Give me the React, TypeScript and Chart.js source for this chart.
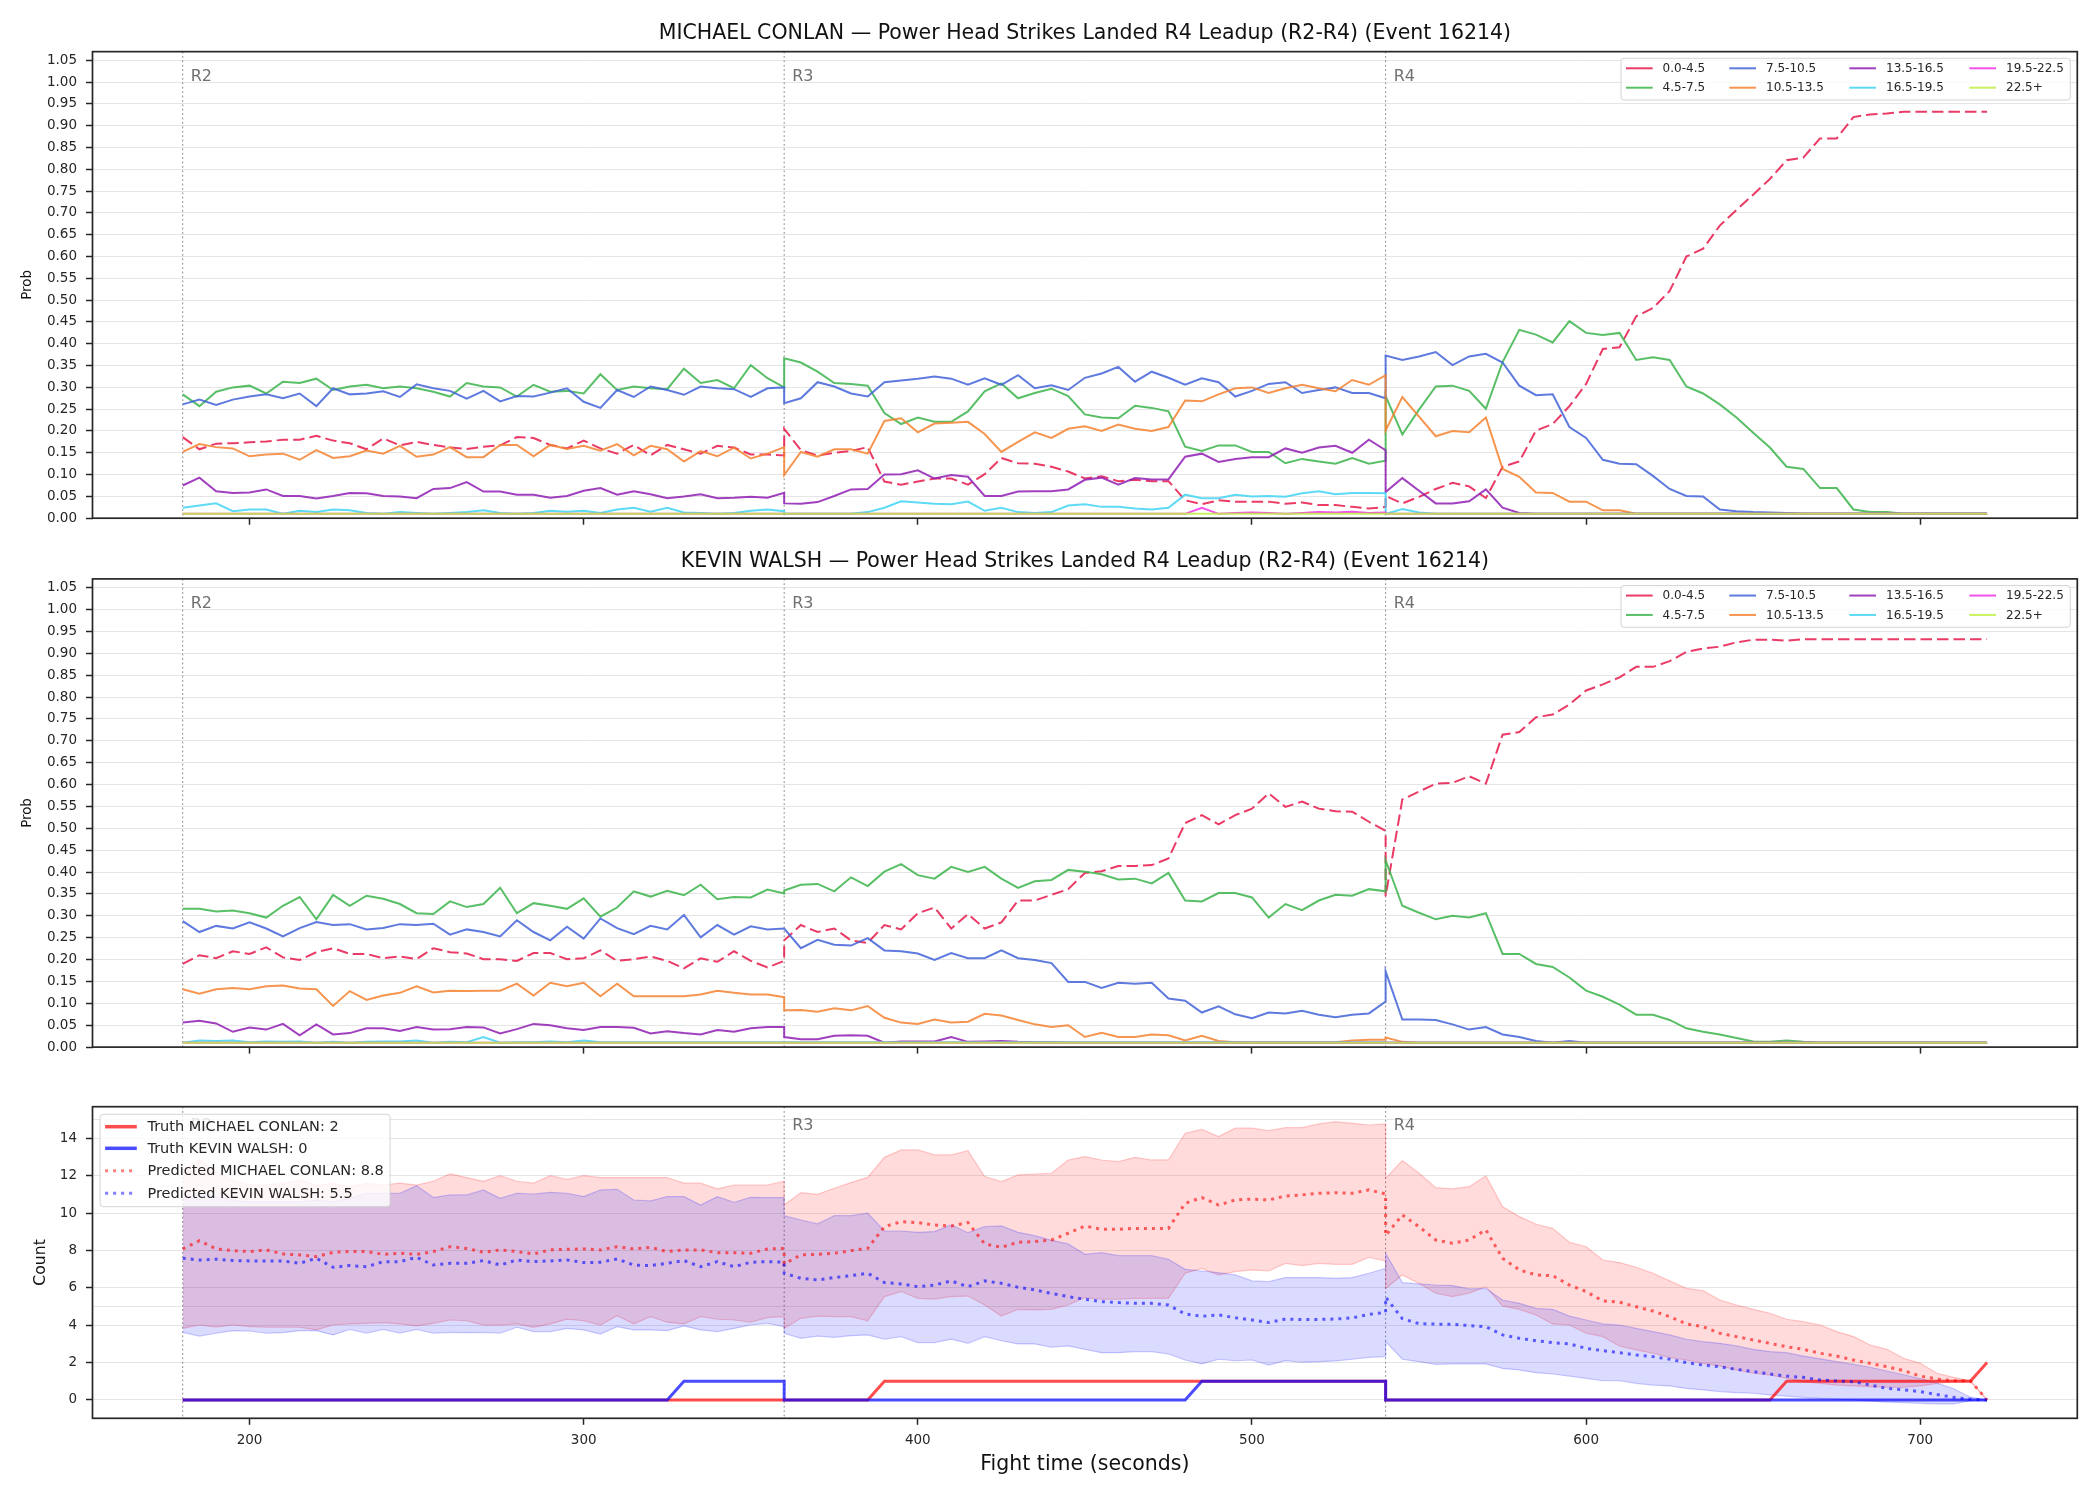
import React, { useEffect, useRef } from 'react';
import { Chart, registerables } from 'chart.js';

Chart.register(...registerables);

const FONT = '"DejaVu Sans", "Liberation Sans", Arial, sans-serif';
const INK = '#262626';
const GRID = 'rgba(0,0,0,0.1)';
Chart.defaults.font.family = FONT;

// ---------------------------------------------------------------------------
// Fight clock: rounds 2-4, sampled every 5 s. Each round is sampled from its
// first to its last second, so the boundary seconds appear twice.
// ---------------------------------------------------------------------------
const ROUND_STARTS = [180, 360, 540];
const ROUND_NAMES = ['R2', 'R3', 'R4'];
const ROUND_SECONDS = 180;
const STEP_SECONDS = 5;
const TIMES: number[] = ROUND_STARTS.flatMap((start) =>
  Array.from({ length: ROUND_SECONDS / STEP_SECONDS + 1 }, (_, k) => start + k * STEP_SECONDS)
);
const R4_FIRST_SAMPLE = 2 * (ROUND_SECONDS / STEP_SECONDS + 1);

const X_MIN = 153;
const X_MAX = 747;
const X_TICKS = [200, 300, 400, 500, 600, 700];
const PROB_TICKS = [0, 0.05, 0.1, 0.15, 0.2, 0.25, 0.3, 0.35, 0.4, 0.45, 0.5, 0.55, 0.6, 0.65, 0.7, 0.75, 0.8, 0.85, 0.9, 0.95, 1.0, 1.05];
const COUNT_TICKS = [0, 2, 4, 6, 8, 10, 12, 14];
const COUNT_EXTRA_GRID = [5, 15];

const FIGHTERS = ['MICHAEL CONLAN', 'KEVIN WALSH'];
const EVENT_ID = 16214;
const BUCKETS = ['0.0-4.5', '4.5-7.5', '7.5-10.5', '10.5-13.5', '13.5-16.5', '16.5-19.5', '19.5-22.5', '22.5+'];
const BUCKET_COLORS = [
  'rgba(230,25,75,0.85)', 'rgba(60,180,75,0.85)', 'rgba(67,99,216,0.85)', 'rgba(245,130,49,0.85)',
  'rgba(145,30,180,0.85)', 'rgba(66,212,244,0.85)', 'rgba(240,50,230,0.85)', 'rgba(191,239,69,0.85)',
];

// ---------------------------------------------------------------------------
// MICHAEL CONLAN — bucket probabilities (R2 | R3 | R4 rows)
// ---------------------------------------------------------------------------
const C_00_45 = [
  0.186, 0.158, 0.171, 0.172, 0.174, 0.176, 0.180, 0.180, 0.189, 0.178, 0.172, 0.158, 0.183, 0.167, 0.175, 0.168, 0.162, 0.159, 0.164, 0.167, 0.186, 0.184, 0.168, 0.160, 0.178, 0.160, 0.148, 0.168, 0.144, 0.168, 0.158, 0.148, 0.166, 0.162, 0.146, 0.146, 0.144,
  0.205, 0.156, 0.144, 0.150, 0.154, 0.163, 0.084, 0.077, 0.084, 0.091, 0.091, 0.077, 0.101, 0.138, 0.126, 0.125, 0.118, 0.107, 0.091, 0.096, 0.085, 0.088, 0.085, 0.085, 0.041, 0.032, 0.041, 0.038, 0.038, 0.038, 0.033, 0.036, 0.030, 0.030, 0.026, 0.022, 0.026,
  0.051, 0.034, 0.049, 0.067, 0.081, 0.073, 0.046, 0.118, 0.130, 0.201, 0.216, 0.257, 0.308, 0.388, 0.392, 0.463, 0.482, 0.521, 0.600, 0.618, 0.671, 0.707, 0.742, 0.778, 0.821, 0.827, 0.871, 0.871, 0.920, 0.926, 0.928, 0.932, 0.932, 0.932, 0.932, 0.932, 0.932,
];
const C_45_75 = [
  0.284, 0.257, 0.290, 0.300, 0.304, 0.286, 0.313, 0.310, 0.320, 0.294, 0.302, 0.306, 0.298, 0.302, 0.298, 0.290, 0.279, 0.310, 0.302, 0.300, 0.279, 0.306, 0.290, 0.292, 0.286, 0.330, 0.294, 0.302, 0.298, 0.296, 0.343, 0.310, 0.317, 0.298, 0.351, 0.321, 0.300,
  0.367, 0.357, 0.336, 0.310, 0.308, 0.304, 0.241, 0.216, 0.231, 0.221, 0.221, 0.245, 0.291, 0.309, 0.275, 0.287, 0.297, 0.280, 0.238, 0.231, 0.229, 0.258, 0.253, 0.245, 0.164, 0.154, 0.167, 0.167, 0.152, 0.152, 0.126, 0.136, 0.130, 0.125, 0.138, 0.125, 0.132,
  0.280, 0.192, 0.249, 0.302, 0.304, 0.292, 0.251, 0.358, 0.432, 0.421, 0.403, 0.452, 0.425, 0.420, 0.425, 0.363, 0.369, 0.363, 0.302, 0.286, 0.261, 0.231, 0.196, 0.162, 0.118, 0.113, 0.069, 0.069, 0.020, 0.014, 0.014, 0.01, 0.01, 0.01, 0.01, 0.01, 0.01,
];
const C_75_105 = [
  0.261, 0.272, 0.260, 0.272, 0.279, 0.284, 0.275, 0.286, 0.257, 0.298, 0.284, 0.286, 0.291, 0.278, 0.307, 0.298, 0.292, 0.274, 0.292, 0.268, 0.280, 0.279, 0.288, 0.298, 0.267, 0.253, 0.294, 0.278, 0.302, 0.294, 0.283, 0.302, 0.298, 0.296, 0.278, 0.298, 0.300,
  0.264, 0.275, 0.312, 0.302, 0.286, 0.279, 0.312, 0.316, 0.320, 0.325, 0.320, 0.306, 0.321, 0.306, 0.328, 0.298, 0.305, 0.294, 0.322, 0.332, 0.347, 0.313, 0.336, 0.322, 0.306, 0.321, 0.312, 0.279, 0.292, 0.308, 0.312, 0.287, 0.294, 0.300, 0.287, 0.287, 0.275,
  0.373, 0.363, 0.371, 0.381, 0.351, 0.371, 0.377, 0.357, 0.304, 0.282, 0.284, 0.209, 0.184, 0.134, 0.125, 0.124, 0.097, 0.067, 0.051, 0.050, 0.020, 0.016, 0.014, 0.013, 0.012, 0.01, 0.01, 0.01, 0.01, 0.01, 0.01, 0.01, 0.01, 0.01, 0.01, 0.01, 0.01,
];
const C_105_135 = [
  0.152, 0.170, 0.163, 0.160, 0.142, 0.146, 0.148, 0.134, 0.156, 0.138, 0.142, 0.155, 0.148, 0.166, 0.141, 0.146, 0.163, 0.140, 0.140, 0.168, 0.168, 0.142, 0.168, 0.159, 0.166, 0.155, 0.170, 0.144, 0.166, 0.158, 0.130, 0.154, 0.142, 0.162, 0.137, 0.148, 0.163,
  0.099, 0.152, 0.141, 0.158, 0.158, 0.148, 0.223, 0.229, 0.197, 0.217, 0.219, 0.221, 0.193, 0.152, 0.175, 0.197, 0.184, 0.205, 0.211, 0.200, 0.215, 0.205, 0.200, 0.209, 0.270, 0.268, 0.284, 0.298, 0.300, 0.287, 0.298, 0.306, 0.298, 0.291, 0.317, 0.306, 0.328,
  0.201, 0.278, 0.233, 0.188, 0.200, 0.197, 0.231, 0.113, 0.095, 0.059, 0.058, 0.038, 0.038, 0.018, 0.018, 0.01, 0.01, 0.01, 0.01, 0.01, 0.01, 0.01, 0.01, 0.01, 0.01, 0.01, 0.01, 0.01, 0.01, 0.01, 0.01, 0.01, 0.01, 0.01, 0.01, 0.01, 0.01,
];
const C_135_165 = [
  0.075, 0.093, 0.062, 0.058, 0.059, 0.066, 0.051, 0.051, 0.045, 0.051, 0.058, 0.057, 0.051, 0.050, 0.046, 0.067, 0.069, 0.083, 0.061, 0.061, 0.054, 0.054, 0.047, 0.051, 0.063, 0.069, 0.054, 0.062, 0.055, 0.046, 0.050, 0.055, 0.046, 0.047, 0.049, 0.047, 0.058,
  0.034, 0.033, 0.037, 0.051, 0.066, 0.067, 0.100, 0.101, 0.110, 0.091, 0.099, 0.095, 0.051, 0.051, 0.061, 0.062, 0.062, 0.066, 0.088, 0.093, 0.077, 0.092, 0.089, 0.089, 0.141, 0.148, 0.129, 0.136, 0.140, 0.140, 0.160, 0.150, 0.162, 0.166, 0.150, 0.180, 0.156,
  0.060, 0.092, 0.063, 0.034, 0.034, 0.039, 0.066, 0.024, 0.012, 0.01, 0.01, 0.01, 0.01, 0.01, 0.01, 0.01, 0.01, 0.01, 0.01, 0.01, 0.01, 0.01, 0.01, 0.01, 0.01, 0.01, 0.01, 0.01, 0.01, 0.01, 0.01, 0.01, 0.01, 0.01, 0.01, 0.01, 0.01,
];
const C_165_195 = [
  0.024, 0.029, 0.034, 0.016, 0.020, 0.020, 0.01, 0.017, 0.014, 0.020, 0.018, 0.012, 0.01, 0.014, 0.012, 0.01, 0.012, 0.014, 0.018, 0.012, 0.01, 0.012, 0.017, 0.015, 0.017, 0.012, 0.020, 0.024, 0.015, 0.024, 0.013, 0.012, 0.01, 0.012, 0.017, 0.020, 0.016,
  0.01, 0.01, 0.01, 0.01, 0.01, 0.014, 0.024, 0.039, 0.036, 0.033, 0.032, 0.038, 0.017, 0.024, 0.014, 0.012, 0.014, 0.029, 0.032, 0.026, 0.026, 0.022, 0.020, 0.024, 0.054, 0.046, 0.046, 0.054, 0.050, 0.051, 0.049, 0.057, 0.062, 0.055, 0.058, 0.058, 0.057,
  0.01, 0.021, 0.013, 0.01, 0.01, 0.01, 0.01, 0.01, 0.01, 0.01, 0.01, 0.01, 0.01, 0.01, 0.01, 0.01, 0.01, 0.01, 0.01, 0.01, 0.01, 0.01, 0.01, 0.01, 0.01, 0.01, 0.01, 0.01, 0.01, 0.01, 0.01, 0.01, 0.01, 0.01, 0.01, 0.01, 0.01,
];
const C_195_225 = [
  0.01, 0.01, 0.01, 0.01, 0.01, 0.01, 0.01, 0.01, 0.01, 0.01, 0.01, 0.01, 0.01, 0.01, 0.01, 0.01, 0.01, 0.01, 0.01, 0.01, 0.01, 0.01, 0.01, 0.01, 0.01, 0.01, 0.01, 0.01, 0.01, 0.01, 0.01, 0.01, 0.01, 0.01, 0.01, 0.01, 0.01,
  0.01, 0.01, 0.01, 0.01, 0.01, 0.01, 0.01, 0.01, 0.01, 0.01, 0.01, 0.01, 0.01, 0.01, 0.01, 0.01, 0.01, 0.01, 0.01, 0.01, 0.01, 0.01, 0.01, 0.01, 0.01, 0.024, 0.01, 0.012, 0.013, 0.012, 0.01, 0.012, 0.014, 0.013, 0.015, 0.012, 0.013,
  0.01, 0.01, 0.01, 0.01, 0.01, 0.01, 0.01, 0.01, 0.01, 0.01, 0.01, 0.01, 0.01, 0.01, 0.01, 0.01, 0.01, 0.01, 0.01, 0.01, 0.01, 0.01, 0.01, 0.01, 0.01, 0.01, 0.01, 0.01, 0.01, 0.01, 0.01, 0.01, 0.01, 0.01, 0.01, 0.01, 0.01,
];
const C_225_UP = [
  0.01, 0.01, 0.01, 0.01, 0.01, 0.01, 0.01, 0.01, 0.01, 0.01, 0.01, 0.01, 0.01, 0.01, 0.01, 0.01, 0.01, 0.01, 0.01, 0.01, 0.01, 0.01, 0.01, 0.01, 0.01, 0.01, 0.01, 0.01, 0.01, 0.01, 0.01, 0.01, 0.01, 0.01, 0.01, 0.01, 0.01,
  0.01, 0.01, 0.01, 0.01, 0.01, 0.01, 0.01, 0.01, 0.01, 0.01, 0.01, 0.01, 0.01, 0.01, 0.01, 0.01, 0.01, 0.01, 0.01, 0.01, 0.01, 0.01, 0.01, 0.01, 0.01, 0.01, 0.01, 0.01, 0.01, 0.01, 0.01, 0.01, 0.01, 0.01, 0.01, 0.01, 0.01,
  0.01, 0.01, 0.01, 0.01, 0.01, 0.01, 0.01, 0.01, 0.01, 0.01, 0.01, 0.01, 0.01, 0.01, 0.01, 0.01, 0.01, 0.01, 0.01, 0.01, 0.01, 0.01, 0.01, 0.01, 0.01, 0.01, 0.01, 0.01, 0.01, 0.01, 0.01, 0.01, 0.01, 0.01, 0.01, 0.01, 0.01,
];

// ---------------------------------------------------------------------------
// KEVIN WALSH — bucket probabilities (R2 | R3 | R4 rows)
// ---------------------------------------------------------------------------
const W_00_45 = [
  0.190, 0.210, 0.203, 0.219, 0.213, 0.228, 0.205, 0.199, 0.217, 0.226, 0.213, 0.213, 0.203, 0.207, 0.201, 0.226, 0.217, 0.214, 0.201, 0.201, 0.197, 0.215, 0.215, 0.201, 0.203, 0.221, 0.197, 0.201, 0.207, 0.197, 0.180, 0.203, 0.195, 0.219, 0.197, 0.182, 0.197,
  0.244, 0.279, 0.263, 0.271, 0.244, 0.238, 0.279, 0.269, 0.306, 0.319, 0.271, 0.304, 0.271, 0.285, 0.335, 0.335, 0.348, 0.361, 0.398, 0.402, 0.414, 0.414, 0.416, 0.431, 0.512, 0.530, 0.509, 0.530, 0.545, 0.580, 0.549, 0.561, 0.545, 0.539, 0.538, 0.515, 0.494,
  0.345, 0.566, 0.584, 0.602, 0.604, 0.619, 0.602, 0.714, 0.720, 0.754, 0.760, 0.783, 0.815, 0.829, 0.845, 0.869, 0.869, 0.882, 0.903, 0.911, 0.915, 0.925, 0.931, 0.931, 0.929, 0.932, 0.932, 0.932, 0.932, 0.932, 0.932, 0.932, 0.932, 0.932, 0.932, 0.932, 0.932,
];
const W_45_75 = [
  0.316, 0.316, 0.310, 0.312, 0.306, 0.296, 0.323, 0.343, 0.292, 0.348, 0.323, 0.346, 0.339, 0.327, 0.306, 0.304, 0.333, 0.320, 0.327, 0.364, 0.306, 0.329, 0.323, 0.316, 0.340, 0.298, 0.319, 0.356, 0.344, 0.357, 0.347, 0.371, 0.338, 0.343, 0.342, 0.360, 0.351,
  0.358, 0.371, 0.373, 0.356, 0.388, 0.368, 0.401, 0.418, 0.393, 0.385, 0.412, 0.400, 0.412, 0.385, 0.364, 0.379, 0.382, 0.405, 0.401, 0.395, 0.383, 0.385, 0.374, 0.398, 0.335, 0.333, 0.352, 0.352, 0.342, 0.296, 0.327, 0.313, 0.335, 0.348, 0.346, 0.361, 0.356,
  0.427, 0.323, 0.307, 0.292, 0.300, 0.296, 0.306, 0.213, 0.213, 0.190, 0.183, 0.159, 0.129, 0.115, 0.097, 0.074, 0.074, 0.062, 0.043, 0.035, 0.029, 0.021, 0.013, 0.012, 0.015, 0.012, 0.01, 0.01, 0.01, 0.01, 0.01, 0.01, 0.01, 0.01, 0.01, 0.01, 0.01,
];
const W_75_105 = [
  0.288, 0.263, 0.277, 0.271, 0.285, 0.271, 0.253, 0.272, 0.286, 0.279, 0.281, 0.269, 0.272, 0.281, 0.279, 0.282, 0.257, 0.269, 0.263, 0.253, 0.290, 0.263, 0.244, 0.275, 0.248, 0.294, 0.272, 0.258, 0.277, 0.269, 0.302, 0.251, 0.279, 0.257, 0.276, 0.269, 0.271,
  0.271, 0.226, 0.245, 0.234, 0.232, 0.249, 0.221, 0.219, 0.214, 0.199, 0.215, 0.203, 0.203, 0.221, 0.203, 0.199, 0.192, 0.149, 0.149, 0.135, 0.147, 0.145, 0.147, 0.111, 0.106, 0.079, 0.093, 0.075, 0.066, 0.079, 0.077, 0.083, 0.074, 0.068, 0.074, 0.077, 0.104,
  0.173, 0.063, 0.063, 0.062, 0.052, 0.040, 0.046, 0.029, 0.023, 0.014, 0.01, 0.014, 0.01, 0.01, 0.01, 0.01, 0.01, 0.01, 0.01, 0.01, 0.01, 0.01, 0.01, 0.01, 0.01, 0.01, 0.01, 0.01, 0.01, 0.01, 0.01, 0.01, 0.01, 0.01, 0.01, 0.01, 0.01,
];
const W_105_135 = [
  0.132, 0.122, 0.132, 0.135, 0.132, 0.139, 0.141, 0.134, 0.132, 0.094, 0.128, 0.108, 0.118, 0.124, 0.139, 0.125, 0.129, 0.128, 0.129, 0.129, 0.145, 0.118, 0.147, 0.139, 0.147, 0.116, 0.145, 0.116, 0.116, 0.116, 0.116, 0.120, 0.129, 0.124, 0.120, 0.120, 0.114,
  0.084, 0.085, 0.081, 0.089, 0.084, 0.094, 0.067, 0.056, 0.053, 0.063, 0.056, 0.058, 0.076, 0.072, 0.062, 0.052, 0.046, 0.050, 0.023, 0.033, 0.023, 0.023, 0.029, 0.027, 0.015, 0.026, 0.014, 0.011, 0.011, 0.011, 0.011, 0.011, 0.011, 0.011, 0.015, 0.017, 0.017,
  0.022, 0.012, 0.01, 0.01, 0.01, 0.01, 0.01, 0.01, 0.01, 0.01, 0.01, 0.01, 0.01, 0.01, 0.01, 0.01, 0.01, 0.01, 0.01, 0.01, 0.01, 0.01, 0.01, 0.01, 0.01, 0.01, 0.01, 0.01, 0.01, 0.01, 0.01, 0.01, 0.01, 0.01, 0.01, 0.01, 0.01,
];
const W_135_165 = [
  0.056, 0.060, 0.054, 0.035, 0.045, 0.040, 0.053, 0.027, 0.052, 0.029, 0.032, 0.043, 0.043, 0.037, 0.046, 0.040, 0.041, 0.046, 0.045, 0.031, 0.041, 0.053, 0.050, 0.043, 0.039, 0.046, 0.046, 0.044, 0.031, 0.036, 0.032, 0.029, 0.039, 0.035, 0.043, 0.046, 0.046,
  0.023, 0.018, 0.018, 0.026, 0.027, 0.026, 0.010, 0.013, 0.013, 0.013, 0.023, 0.012, 0.013, 0.014, 0.012, 0.011, 0.011, 0.01, 0.01, 0.01, 0.01, 0.01, 0.01, 0.01, 0.01, 0.01, 0.01, 0.01, 0.01, 0.01, 0.01, 0.01, 0.01, 0.01, 0.01, 0.01, 0.01,
  0.01, 0.01, 0.01, 0.01, 0.01, 0.01, 0.01, 0.01, 0.01, 0.01, 0.01, 0.01, 0.01, 0.01, 0.01, 0.01, 0.01, 0.01, 0.01, 0.01, 0.01, 0.01, 0.01, 0.01, 0.01, 0.01, 0.01, 0.01, 0.01, 0.01, 0.01, 0.01, 0.01, 0.01, 0.01, 0.01, 0.01,
];
const W_165_195 = [
  0.010, 0.015, 0.014, 0.015, 0.011, 0.013, 0.012, 0.013, 0.010, 0.012, 0.010, 0.012, 0.013, 0.013, 0.015, 0.010, 0.012, 0.011, 0.023, 0.010, 0.011, 0.011, 0.013, 0.011, 0.015, 0.011, 0.011, 0.011, 0.011, 0.011, 0.011, 0.011, 0.011, 0.011, 0.011, 0.011, 0.011,
  0.011, 0.011, 0.011, 0.011, 0.011, 0.011, 0.011, 0.011, 0.011, 0.011, 0.011, 0.011, 0.011, 0.011, 0.011, 0.011, 0.011, 0.011, 0.011, 0.011, 0.011, 0.011, 0.011, 0.011, 0.011, 0.011, 0.011, 0.011, 0.011, 0.011, 0.011, 0.011, 0.011, 0.011, 0.011, 0.011, 0.011,
  0.01, 0.01, 0.01, 0.01, 0.01, 0.01, 0.01, 0.01, 0.01, 0.01, 0.01, 0.01, 0.01, 0.01, 0.01, 0.01, 0.01, 0.01, 0.01, 0.01, 0.01, 0.01, 0.01, 0.01, 0.01, 0.01, 0.01, 0.01, 0.01, 0.01, 0.01, 0.01, 0.01, 0.01, 0.01, 0.01, 0.01,
];
const W_195_225 = C_225_UP.slice();
const W_225_UP = C_225_UP.slice();

// ---------------------------------------------------------------------------
// Head strike counts: truth, predicted mean and interval bands
// ---------------------------------------------------------------------------
const TRUTH_CONLAN = [
  0, 0, 0, 0, 0, 0, 0, 0, 0, 0, 0, 0, 0, 0, 0, 0, 0, 0, 0, 0, 0, 0, 0, 0, 0, 0, 0, 0, 0, 0, 0, 0, 0, 0, 0, 0, 0,
  0, 0, 0, 0, 0, 0, 1, 1, 1, 1, 1, 1, 1, 1, 1, 1, 1, 1, 1, 1, 1, 1, 1, 1, 1, 1, 1, 1, 1, 1, 1, 1, 1, 1, 1, 1, 1,
  0, 0, 0, 0, 0, 0, 0, 0, 0, 0, 0, 0, 0, 0, 0, 0, 0, 0, 0, 0, 0, 0, 0, 0, 1, 1, 1, 1, 1, 1, 1, 1, 1, 1, 1, 1, 2,
];
const TRUTH_WALSH = [
  0, 0, 0, 0, 0, 0, 0, 0, 0, 0, 0, 0, 0, 0, 0, 0, 0, 0, 0, 0, 0, 0, 0, 0, 0, 0, 0, 0, 0, 0, 1, 1, 1, 1, 1, 1, 1,
  0, 0, 0, 0, 0, 0, 0, 0, 0, 0, 0, 0, 0, 0, 0, 0, 0, 0, 0, 0, 0, 0, 0, 0, 0, 1, 1, 1, 1, 1, 1, 1, 1, 1, 1, 1, 1,
  0, 0, 0, 0, 0, 0, 0, 0, 0, 0, 0, 0, 0, 0, 0, 0, 0, 0, 0, 0, 0, 0, 0, 0, 0, 0, 0, 0, 0, 0, 0, 0, 0, 0, 0, 0, 0,
];
const PRED_CONLAN = [
  8.08, 8.52, 8.08, 7.99, 7.94, 8.03, 7.81, 7.76, 7.67, 7.90, 7.94, 7.94, 7.79, 7.85, 7.79, 7.94, 8.20, 8.11, 7.90, 8.03, 7.94, 7.81, 8.03, 8.06, 8.08, 8.03, 8.20, 8.08, 8.17, 7.94, 8.03, 8.03, 7.88, 7.88, 7.85, 8.08, 8.11,
  7.28, 7.76, 7.79, 7.85, 7.99, 8.11, 9.27, 9.54, 9.49, 9.36, 9.31, 9.49, 8.35, 8.17, 8.44, 8.47, 8.56, 8.92, 9.31, 9.13, 9.13, 9.18, 9.18, 9.18, 10.52, 10.83, 10.43, 10.70, 10.75, 10.70, 10.91, 10.97, 11.06, 11.09, 11.06, 11.24, 11.02,
  8.8, 9.90, 9.27, 8.56, 8.38, 8.56, 9.10, 7.58, 6.96, 6.69, 6.65, 6.15, 5.80, 5.30, 5.23, 4.99, 4.76, 4.46, 4.07, 3.92, 3.57, 3.39, 3.21, 3.03, 2.85, 2.71, 2.50, 2.35, 2.14, 1.96, 1.78, 1.57, 1.28, 1.12, 1.03, 1.03, 0,
];
const PRED_WALSH = [
  7.58, 7.49, 7.53, 7.46, 7.44, 7.44, 7.44, 7.31, 7.58, 7.10, 7.19, 7.13, 7.40, 7.40, 7.63, 7.22, 7.31, 7.31, 7.46, 7.22, 7.49, 7.40, 7.44, 7.49, 7.35, 7.37, 7.54, 7.22, 7.19, 7.31, 7.46, 7.13, 7.40, 7.13, 7.37, 7.40, 7.37,
  6.78, 6.51, 6.42, 6.55, 6.65, 6.78, 6.28, 6.21, 6.06, 6.15, 6.37, 6.06, 6.37, 6.24, 6.03, 5.89, 5.70, 5.53, 5.39, 5.26, 5.21, 5.17, 5.17, 5.08, 4.60, 4.48, 4.55, 4.40, 4.28, 4.14, 4.33, 4.30, 4.31, 4.33, 4.39, 4.58, 4.69,
  5.5, 4.35, 4.08, 4.06, 4.05, 3.98, 3.92, 3.48, 3.30, 3.17, 3.07, 3.00, 2.76, 2.64, 2.53, 2.41, 2.32, 2.18, 2.00, 1.87, 1.78, 1.64, 1.52, 1.39, 1.28, 1.21, 1.07, 1.02, 0.98, 0.80, 0.62, 0.54, 0.45, 0.29, 0.14, 0.04, 0,
];
const CONLAN_HIGH = [
  12.3, 12.85, 12.22, 11.77, 11.50, 11.50, 11.59, 11.77, 11.50, 11.59, 11.41, 11.59, 11.5, 11.6, 11.5, 11.7, 12.1, 11.9, 11.7, 12.0, 11.7, 11.6, 12.0, 11.8, 12.0, 11.9, 11.9, 11.9, 11.9, 11.9, 11.6, 11.6, 11.3, 11.5, 11.5, 11.5, 11.7,
  10.43, 11.09, 11.00, 11.33, 11.63, 11.91, 12.98, 13.38, 13.38, 13.11, 13.11, 13.34, 11.95, 11.68, 12.04, 12.09, 12.13, 12.84, 13.02, 12.84, 12.75, 12.98, 12.84, 12.84, 14.27, 14.48, 14.09, 14.54, 14.54, 14.41, 14.57, 14.57, 14.77, 14.89, 14.80, 14.71, 14.77,
  11.86, 12.81, 12.13, 11.36, 11.29, 11.41, 11.99, 10.34, 9.81, 9.40, 9.18, 8.44, 8.20, 7.49, 7.35, 7.10, 6.78, 6.37, 5.97, 5.85, 5.35, 5.08, 4.85, 4.64, 4.32, 4.19, 4.01, 3.66, 3.39, 2.94, 2.71, 2.23, 1.96, 1.43, 1.21, 1.03, 0,
];
const CONLAN_LOW = [
  3.83, 4.01, 3.89, 4.01, 3.92, 3.89, 3.89, 3.89, 3.75, 4.01, 4.07, 4.10, 4.14, 4.07, 3.96, 4.10, 4.28, 4.24, 4.01, 4.01, 4.07, 3.89, 4.07, 4.32, 4.24, 4.01, 4.51, 4.07, 4.46, 4.16, 4.07, 4.46, 4.32, 4.28, 4.16, 4.41, 4.46,
  3.83, 4.37, 4.49, 4.46, 4.46, 4.24, 5.53, 5.80, 5.44, 5.40, 5.53, 5.56, 5.08, 4.49, 4.85, 4.82, 4.85, 5.08, 5.48, 5.39, 5.39, 5.44, 5.44, 5.44, 6.78, 7.04, 6.69, 6.87, 6.96, 6.90, 7.31, 7.19, 7.31, 7.26, 7.26, 7.63, 7.44,
  5.97, 6.69, 6.24, 5.71, 5.53, 5.71, 6.06, 5.03, 4.85, 4.55, 4.07, 4.01, 3.57, 3.39, 2.89, 2.68, 2.50, 2.28, 2.14, 1.96, 1.82, 1.61, 1.43, 1.34, 1.16, 0.98, 0.89, 0.80, 0.75, 0.71, 0.68, 0.68, 0.75, 0.89, 0.98, 1.00, 0,
];
const WALSH_HIGH = [
  10.8, 11.0, 10.9, 10.7, 10.6, 10.6, 10.6, 10.6, 10.7, 10.6, 10.8, 11.06, 11.06, 11.06, 11.47, 10.83, 10.97, 10.97, 11.24, 10.79, 11.06, 11.02, 11.11, 11.06, 10.88, 11.24, 11.27, 10.70, 10.65, 10.88, 10.88, 10.43, 10.88, 10.58, 10.84, 10.83, 10.83,
  9.86, 9.63, 9.42, 9.86, 9.86, 9.99, 9.04, 9.04, 8.97, 9.01, 9.36, 8.95, 9.27, 9.31, 8.97, 8.79, 8.54, 8.35, 7.79, 7.88, 7.72, 7.72, 7.72, 7.53, 6.99, 6.90, 6.81, 6.69, 6.37, 6.33, 6.55, 6.55, 6.55, 6.51, 6.55, 6.78, 7.04,
  7.85, 6.28, 6.21, 6.15, 6.12, 5.94, 5.97, 5.35, 5.17, 4.90, 4.85, 4.49, 4.28, 4.07, 4.01, 3.83, 3.66, 3.48, 3.25, 3.12, 3.03, 2.89, 2.71, 2.59, 2.53, 2.35, 2.20, 2.05, 1.90, 1.75, 1.55, 1.35, 1.15, 0.90, 0.60, 0.15, 0,
];
const WALSH_LOW = [
  3.62, 3.42, 3.57, 3.71, 3.69, 3.57, 3.60, 3.71, 3.71, 3.48, 3.78, 3.57, 3.78, 3.57, 3.78, 3.57, 3.62, 3.60, 3.62, 3.57, 3.89, 3.66, 3.66, 3.83, 3.75, 3.53, 3.92, 3.75, 3.75, 3.71, 3.96, 3.75, 3.66, 3.83, 4.01, 4.10, 3.92,
  3.57, 3.30, 3.42, 3.35, 3.44, 3.48, 3.25, 3.39, 3.07, 3.07, 3.25, 3.03, 3.39, 3.17, 3.00, 3.00, 2.82, 2.89, 2.71, 2.53, 2.53, 2.59, 2.59, 2.46, 2.14, 1.93, 2.18, 2.10, 2.14, 1.87, 2.10, 2.02, 2.05, 2.09, 2.18, 2.28, 2.32,
  3.12, 2.18, 2.05, 1.91, 1.93, 1.93, 1.93, 1.69, 1.61, 1.46, 1.39, 1.28, 1.16, 1.03, 1.03, 0.89, 0.80, 0.75, 0.62, 0.54, 0.45, 0.39, 0.36, 0.27, 0.21, 0.14, 0.09, 0.04, 0.00, -0.05, -0.11, -0.14, -0.18, -0.21, -0.21, -0.04, 0,
];

// ---------------------------------------------------------------------------
// Layout (pixels)
// ---------------------------------------------------------------------------
const PAGE_W = 2100;
const PLOT_LEFT = 92.5;
const RIGHT_PAD = 22.7;

type LegendItem = { label: string; color: string; dash: number[]; width: number };
type LegendSpec = {
  corner: 'tr' | 'tl';
  inset: number;
  insetTop: number;
  width: number;
  height: number;
  rows: number;
  lineX: number[];
  textX: number[];
  rowY: number[];
  lineLen: number;
  fontSize: number;
  items: LegendItem[];
};
type Deco = {
  title?: string;
  titleBaseline?: number;
  yLabel: string;
  yLabelX: number;
  yLabelSize: number;
  xLabel?: string;
  xLabelY?: number;
  roundLabelBaseline: number;
  legend: LegendSpec;
};

const toPoints = (values: number[]) => TIMES.map((x, i) => ({ x, y: values[i] }));

// keep the scales from reserving extra room around the fixed plot frame
const clearScalePadding = (s: any) => {
  s.paddingTop = 0;
  s.paddingBottom = 0;
  s.paddingLeft = 0;
  s.paddingRight = 0;
};

function drawLegend(ctx: CanvasRenderingContext2D, a: any, L: LegendSpec) {
  const left = L.corner === 'tr' ? a.right - L.inset - L.width : a.left + L.inset;
  const top = a.top + L.insetTop;
  ctx.save();
  ctx.beginPath();
  (ctx as any).roundRect(left, top, L.width, L.height, 3);
  ctx.fillStyle = 'rgba(255,255,255,0.8)';
  ctx.fill();
  ctx.strokeStyle = 'rgba(204,204,204,0.85)';
  ctx.lineWidth = 1;
  ctx.stroke();
  ctx.font = `${L.fontSize}px ${FONT}`;
  ctx.textAlign = 'left';
  ctx.textBaseline = 'middle';
  L.items.forEach((it, k) => {
    const col = Math.floor(k / L.rows);
    const row = k % L.rows;
    const y = top + L.rowY[row];
    const x0 = left + L.lineX[col];
    ctx.beginPath();
    ctx.setLineDash(it.dash);
    ctx.strokeStyle = it.color;
    ctx.lineWidth = it.width;
    ctx.moveTo(x0, y);
    ctx.lineTo(x0 + L.lineLen, y);
    ctx.stroke();
    ctx.setLineDash([]);
    ctx.fillStyle = INK;
    ctx.fillText(it.label, left + L.textX[col], y + 0.5);
  });
  ctx.restore();
}

function decoPlugin(d: Deco) {
  return {
    id: 'panelDeco',
    beforeDatasetsDraw(chart: any) {
      const { ctx, chartArea: a, scales } = chart;
      ctx.save();
      ctx.strokeStyle = 'rgba(110,110,110,0.85)';
      ctx.lineWidth = 1;
      ctx.setLineDash([1.7, 2.7]);
      ROUND_STARTS.forEach((t) => {
        const px = scales.x.getPixelForValue(t);
        ctx.beginPath();
        ctx.moveTo(px, a.top);
        ctx.lineTo(px, a.bottom);
        ctx.stroke();
      });
      ctx.setLineDash([]);
      ctx.fillStyle = '#707070';
      ctx.font = `16px ${FONT}`;
      ctx.textAlign = 'left';
      ctx.textBaseline = 'alphabetic';
      ROUND_STARTS.forEach((t, i) => {
        ctx.fillText(ROUND_NAMES[i], scales.x.getPixelForValue(t) + 8, a.top + d.roundLabelBaseline);
      });
      ctx.restore();
    },
    afterDraw(chart: any) {
      const { ctx, chartArea: a } = chart;
      ctx.save();
      // frame
      ctx.strokeStyle = INK;
      ctx.lineWidth = 1.7;
      ctx.strokeRect(a.left, a.top, a.right - a.left, a.bottom - a.top);
      const cx = (a.left + a.right) / 2;
      ctx.fillStyle = '#111';
      if (d.title) {
        ctx.font = `20.5px ${FONT}`;
        ctx.textAlign = 'center';
        ctx.textBaseline = 'alphabetic';
        ctx.fillText(d.title, cx, d.titleBaseline as number);
      }
      if (d.xLabel) {
        ctx.font = `20.5px ${FONT}`;
        ctx.textAlign = 'center';
        ctx.textBaseline = 'middle';
        ctx.fillText(d.xLabel, cx, d.xLabelY as number);
      }
      ctx.save();
      ctx.translate(d.yLabelX, (a.top + a.bottom) / 2);
      ctx.rotate(-Math.PI / 2);
      ctx.font = `${d.yLabelSize}px ${FONT}`;
      ctx.textAlign = 'center';
      ctx.textBaseline = 'middle';
      ctx.fillText(d.yLabel, 0, 0);
      ctx.restore();
      ctx.restore();
      drawLegend(ctx, a, d.legend);
    },
  };
}

const xScale = (axisHeight: number, showLabels: boolean) => ({
  type: 'linear',
  min: X_MIN,
  max: X_MAX,
  afterBuildTicks: (s: any) => {
    s.ticks = X_TICKS.map((value) => ({ value }));
  },
  afterFit: (s: any) => {
    s.height = axisHeight;
    clearScalePadding(s);
  },
  border: { display: false },
  grid: { display: true, drawOnChartArea: false, drawTicks: true, tickLength: 6.5, tickColor: INK, tickWidth: 1.5 },
  ticks: {
    autoSkip: false,
    maxRotation: 0,
    padding: 8,
    color: INK,
    font: { size: 13.5, family: FONT },
    callback: (v: any) => (showLabels ? String(v) : ''),
  },
});

const PROB_LEGEND = {
  corner: 'tr' as const,
  inset: 7,
  insetTop: 6.65,
  width: 449.3,
  height: 41.7,
  rows: 2,
  lineX: [5, 108.3, 228.3, 348.3],
  textX: [41.6, 145, 265, 385],
  rowY: [10, 29.4],
  lineLen: 26.7,
  fontSize: 12,
  items: BUCKETS.map((label, i) => ({ label, color: BUCKET_COLORS[i], dash: [] as number[], width: 2 })),
};

function makeProbChart(canvas: HTMLCanvasElement, rows: number[][], name: string, plotTop: number, axisHeight: number, titleBaseline: number) {
  const datasets = rows.map((vals, i) => ({
    label: BUCKETS[i],
    data: toPoints(vals),
    borderColor: BUCKET_COLORS[i],
    backgroundColor: BUCKET_COLORS[i],
    borderWidth: 2,
    borderDash: i === 0 ? [11.5, 5] : [],
    pointRadius: 0,
    fill: false,
    tension: 0,
    order: rows.length - i,
  }));
  const deco: Deco = {
    title: `${name} — Power Head Strikes Landed R4 Leadup (R2-R4) (Event ${EVENT_ID})`,
    titleBaseline,
    yLabel: 'Prob',
    yLabelX: 28,
    yLabelSize: 13.4,
    roundLabelBaseline: 29,
    legend: PROB_LEGEND,
  };
  return new Chart(canvas, {
    type: 'line',
    data: { datasets } as any,
    options: {
      responsive: false,
      animation: false,
      devicePixelRatio: 1,
      events: [],
      layout: { padding: { top: plotTop, right: RIGHT_PAD, left: 0, bottom: 0 } },
      plugins: { legend: { display: false }, tooltip: { enabled: false }, title: { display: false } },
      scales: {
        x: xScale(axisHeight, false) as any,
        y: {
          type: 'linear',
          min: 0,
          max: 1.07,
          afterBuildTicks: (s: any) => {
            s.ticks = PROB_TICKS.map((value) => ({ value }));
          },
          afterFit: (s: any) => {
            s.width = PLOT_LEFT;
            clearScalePadding(s);
          },
          border: { display: false },
          grid: { color: GRID, lineWidth: 1, drawTicks: true, tickLength: 6.5, tickColor: INK, tickWidth: 1.5 },
          ticks: { autoSkip: false, padding: 9, color: INK, font: { size: 13.5, family: FONT }, callback: (v: any) => Number(v).toFixed(2) },
        } as any,
      },
    } as any,
    plugins: [decoPlugin(deco) as any],
  });
}

function makeCountChart(canvas: HTMLCanvasElement, plotTop: number, axisHeight: number) {
  const band = (rgb: string) => ({
    borderColor: `rgba(${rgb},0.2)`,
    backgroundColor: `rgba(${rgb},0.14)`,
    borderWidth: 1.2,
    pointRadius: 0,
    tension: 0,
  });
  const line = (color: string, dash: number[]) => ({
    borderColor: color,
    backgroundColor: color,
    borderWidth: 3,
    borderDash: dash,
    borderCapStyle: 'butt',
    pointRadius: 0,
    fill: false,
    tension: 0,
  });
  const truthRed = 'rgba(255,0,0,0.7)';
  const truthBlue = 'rgba(0,0,255,0.7)';
  const predRed = 'rgba(255,0,0,0.6)';
  const predBlue = 'rgba(0,0,255,0.6)';
  const datasets = [
    { label: 'conlan-low', data: toPoints(CONLAN_LOW), ...band('255,0,0'), fill: false, order: 10 },
    { label: 'conlan-high', data: toPoints(CONLAN_HIGH), ...band('255,0,0'), fill: '-1', order: 9 },
    { label: 'walsh-low', data: toPoints(WALSH_LOW), ...band('0,0,255'), fill: false, order: 8 },
    { label: 'walsh-high', data: toPoints(WALSH_HIGH), ...band('0,0,255'), fill: '-1', order: 7 },
    { label: 'truth-conlan', data: toPoints(TRUTH_CONLAN), ...line(truthRed, []), order: 6 },
    { label: 'truth-walsh', data: toPoints(TRUTH_WALSH), ...line(truthBlue, []), order: 5 },
    { label: 'pred-conlan', data: toPoints(PRED_CONLAN), ...line(predRed, [3, 5]), order: 4 },
    { label: 'pred-walsh', data: toPoints(PRED_WALSH), ...line(predBlue, [3, 5]), order: 3 },
  ];
  const legend: LegendSpec = {
    corner: 'tl',
    inset: 7.6,
    insetTop: 7.6,
    width: 290,
    height: 92.4,
    rows: 4,
    lineX: [5],
    textX: [47.3],
    rowY: [12.4, 34, 56.4, 79],
    lineLen: 31.7,
    fontSize: 14.5,
    items: [
      { label: `Truth ${FIGHTERS[0]}: ${TRUTH_CONLAN[TRUTH_CONLAN.length - 1]}`, color: truthRed, dash: [], width: 3.5 },
      { label: `Truth ${FIGHTERS[1]}: ${TRUTH_WALSH[TRUTH_WALSH.length - 1]}`, color: truthBlue, dash: [], width: 3.5 },
      { label: `Predicted ${FIGHTERS[0]}: ${PRED_CONLAN[R4_FIRST_SAMPLE].toFixed(1)}`, color: 'rgba(255,0,0,0.5)', dash: [3, 5], width: 3 },
      { label: `Predicted ${FIGHTERS[1]}: ${PRED_WALSH[R4_FIRST_SAMPLE].toFixed(1)}`, color: 'rgba(0,0,255,0.5)', dash: [3, 5], width: 3 },
    ],
  };
  const deco: Deco = {
    yLabel: 'Count',
    yLabelX: 41,
    yLabelSize: 15.7,
    xLabel: 'Fight time (seconds)',
    xLabelY: 405,
    roundLabelBaseline: 23.3,
    legend,
  };
  const gridTicks = [...COUNT_TICKS, ...COUNT_EXTRA_GRID].sort((p, q) => p - q);
  return new Chart(canvas, {
    type: 'line',
    data: { datasets } as any,
    options: {
      responsive: false,
      animation: false,
      devicePixelRatio: 1,
      events: [],
      layout: { padding: { top: plotTop, right: RIGHT_PAD, left: 0, bottom: 0 } },
      plugins: { legend: { display: false }, tooltip: { enabled: false }, title: { display: false } },
      scales: {
        x: xScale(axisHeight, true) as any,
        y: {
          type: 'linear',
          min: -0.98,
          max: 15.69,
          afterBuildTicks: (s: any) => {
            s.ticks = gridTicks.map((value) => ({ value }));
          },
          afterFit: (s: any) => {
            s.width = PLOT_LEFT;
            clearScalePadding(s);
          },
          border: { display: false },
          grid: {
            color: GRID,
            lineWidth: 1,
            drawTicks: true,
            tickLength: 6.5,
            tickWidth: 1.5,
            tickColor: (c: any) => (COUNT_EXTRA_GRID.includes(c.tick?.value) ? 'rgba(0,0,0,0)' : INK),
          },
          ticks: {
            autoSkip: false,
            padding: 9,
            color: INK,
            font: { size: 13.5, family: FONT },
            callback: (v: any) => (COUNT_EXTRA_GRID.includes(Number(v)) ? '' : String(v)),
          },
        } as any,
      },
    } as any,
    plugins: [decoPlugin(deco) as any],
  });
}

const PANELS = [
  { top: 0, height: 530 },
  { top: 530, height: 530 },
  { top: 1060, height: 440 },
];

export default function App() {
  const c1 = useRef<HTMLCanvasElement>(null);
  const c2 = useRef<HTMLCanvasElement>(null);
  const c3 = useRef<HTMLCanvasElement>(null);

  useEffect(() => {
    const charts: Chart[] = [];
    if (c1.current) {
      charts.push(
        makeProbChart(c1.current, [C_00_45, C_45_75, C_75_105, C_105_135, C_135_165, C_165_195, C_195_225, C_225_UP], FIGHTERS[0], 51.65, 530 - 518.2, 39.1)
      );
    }
    if (c2.current) {
      charts.push(
        makeProbChart(c2.current, [W_00_45, W_45_75, W_75_105, W_105_135, W_135_165, W_165_195, W_195_225, W_225_UP], FIGHTERS[1], 48.9, 530 - 517.1, 36.9)
      );
    }
    if (c3.current) {
      charts.push(makeCountChart(c3.current, 46.7, 440 - 358.3));
    }
    return () => charts.forEach((c) => c.destroy());
  }, []);

  const refs = [c1, c2, c3];
  return (
    <div style={{ position: 'absolute', left: 0, top: 0, width: PAGE_W, height: 1500, background: '#ffffff' }}>
      {PANELS.map((p, i) => (
        <canvas
          key={i}
          ref={refs[i]}
          width={PAGE_W}
          height={p.height}
          style={{ position: 'absolute', left: 0, top: p.top, width: PAGE_W, height: p.height }}
        />
      ))}
    </div>
  );
}
